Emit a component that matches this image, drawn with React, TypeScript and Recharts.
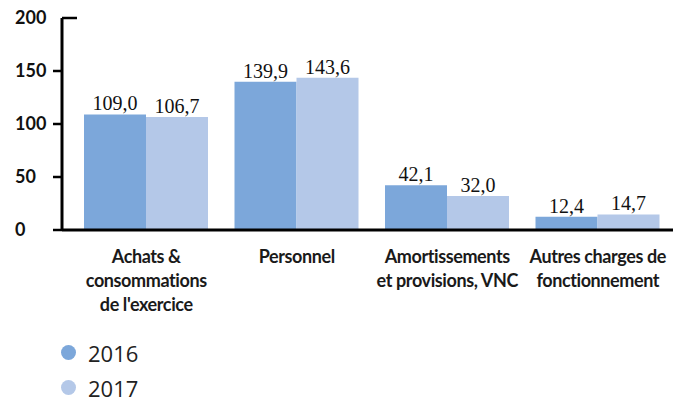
import React from 'react';
import { BarChart, Bar, XAxis, YAxis, Legend, LabelList } from 'recharts';

// Charges by nature, in millions of euros
const categories = [
  "Achats &\nconsommations\nde l'exercice",
  'Personnel',
  'Amortissements\net provisions, VNC',
  'Autres charges de\nfonctionnement',
];
const values2016 = [109.0, 139.9, 42.1, 12.4];
const values2017 = [106.7, 143.6, 32.0, 14.7];
const yTicks = [0, 50, 100, 150, 200];

const COLOR_2016 = '#7ca7da';
const COLOR_2017 = '#b4c8e8';

const data = categories.map((name, i) => ({
  name,
  y2016: values2016[i],
  y2017: values2017[i],
}));

const fmt = (v: number) => v.toFixed(1).replace('.', ',');

const Y_TICK_SIZE = 9;
const Y_TICK_MARGIN = 10;

const YTick = (props: any) => {
  const { x, y, payload } = props;
  const axisX = x + Y_TICK_SIZE + Y_TICK_MARGIN;
  const isTop = payload.value === 200;
  return (
    <g>
      <line
        x1={isTop ? axisX : axisX - Y_TICK_SIZE}
        x2={isTop ? axisX + 15 : axisX}
        y1={y}
        y2={y}
        stroke="#000"
        strokeWidth={2.5}
      />
      <text
        x={15}
        y={y}
        dy="0.36em"
        textAnchor="start"
        fontFamily="Lato"
        fontWeight={700}
        fontSize={18}
        fill="#111"
      >
        {payload.value}
      </text>
    </g>
  );
};

const XTick = (props: any) => {
  const { x, y, payload } = props;
  const lines = String(payload.value).split('\n');
  return (
    <text
      x={x}
      y={y}
      textAnchor="middle"
      fontFamily="Lato"
      fontWeight={700}
      fontSize={18}
      letterSpacing={-0.4}
      fill="#1a1a1a"
    >
      {lines.map((line, i) => (
        <tspan key={i} x={x} y={y + 33 + i * 24}>
          {line}
        </tspan>
      ))}
    </text>
  );
};

const LegendContent = (props: any) => {
  const items = props.payload || [];
  return (
    <div>
      {items.map((item: any) => (
        <div
          key={item.value}
          style={{ display: 'flex', alignItems: 'center', height: 35 }}
        >
          <div
            style={{
              width: 15,
              height: 15,
              borderRadius: '50%',
              background: item.color,
              marginRight: 12,
            }}
          />
          <span
            style={{
              fontFamily: 'Open Sans',
              fontSize: 22,
              color: '#222',
              lineHeight: '22px',
            }}
          >
            {item.value}
          </span>
        </div>
      ))}
    </div>
  );
};

const labelStyle = {
  fontFamily: 'Liberation Serif',
  fontSize: 20,
  fill: '#111',
};

export default function App() {
  return (
    <div style={{ position: 'absolute', left: 0, top: 0 }}>
      <BarChart
        width={673}
        height={403}
        data={data}
        margin={{ top: 18, right: 0, left: 0, bottom: 0 }}
        barGap={0}
        barSize={62}
      >
        <XAxis
          dataKey="name"
          height={173}
          padding={{ left: 9, right: 0 }}
          axisLine={{ stroke: '#000', strokeWidth: 3 }}
          tickLine={false}
          tickSize={0}
          tickMargin={0}
          tick={<XTick />}
          interval={0}
        />
        <YAxis
          width={62}
          domain={[0, 200]}
          ticks={yTicks}
          allowDataOverflow
          axisLine={{ stroke: '#000', strokeWidth: 3 }}
          tickLine={false}
          tickSize={Y_TICK_SIZE}
          tickMargin={Y_TICK_MARGIN}
          tick={<YTick />}
        />
        <Legend
          verticalAlign="middle"
          align="center"
          layout="horizontal"
          wrapperStyle={{ left: 61, top: 335, width: 200 }}
          content={<LegendContent />}
        />
        <Bar dataKey="y2016" name="2016" fill={COLOR_2016} isAnimationActive={false}>
          <LabelList dataKey="y2016" position="top" offset={4} formatter={fmt} style={labelStyle} />
        </Bar>
        <Bar dataKey="y2017" name="2017" fill={COLOR_2017} isAnimationActive={false}>
          <LabelList dataKey="y2017" position="top" offset={4} formatter={fmt} style={labelStyle} />
        </Bar>
      </BarChart>
    </div>
  );
}
